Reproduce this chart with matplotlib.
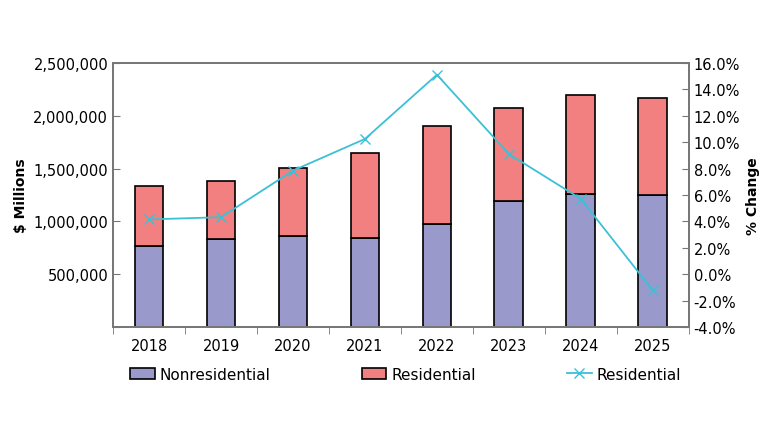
import numpy as np
import matplotlib.pyplot as plt
from matplotlib.ticker import FuncFormatter

years = ['2018', '2019', '2020', '2021', '2022', '2023', '2024', '2025']
nonres = [766000, 835000, 857000, 845000, 971000, 1195000, 1255000, 1248000]
res = [568000, 552000, 647000, 807000, 933000, 879000, 939000, 921000]
res_pct = [4.15, 4.32, 7.85, 10.25, 15.12, 9.11, 5.71, -1.23]

fig = plt.figure(figsize=(7.8, 4.39), dpi=100)
ax = fig.add_axes([0.145, 0.253, 0.738, 0.601])
x = np.arange(len(years))
ax.bar(x, nonres, width=0.4, color='#9999cc', edgecolor='black', lw=1.2, label='Nonresidential')
ax.bar(x, res, width=0.4, bottom=nonres, color='#f38080', edgecolor='black', lw=1.2, label='Residential')
ax.set_xlim(-0.5, len(years) - 0.5)
ax.set_ylim(0, 2500000)
ax.set_yticks(np.arange(0, 2500001, 500000))
ax.yaxis.set_major_formatter(FuncFormatter(lambda v, p: '' if v == 0 else f'{v:,.0f}'))
ax.set_xticks(x)
ax.set_xticklabels(years)
ax.set_xticks(np.arange(-0.5, len(years), 1), minor=True)
ax.tick_params(axis='x', which='major', length=0, labelsize=10.5, pad=8)
ax.tick_params(axis='x', which='minor', length=5, color='#777777', direction='out')
ax.tick_params(axis='y', labelsize=10.5, color='#777777', direction='in', length=5)
ax.set_ylabel('$ Millions', fontsize=10, fontweight='bold')
for s in ax.spines.values():
    s.set_color('#777777')
    s.set_linewidth(1.3)

ax2 = ax.twinx()
ax2.plot(x, res_pct, color='#3cc0d6', lw=1.3, marker='x', ms=7, label='Residential')
ax2.set_ylim(-4, 16)
ax2.set_yticks(np.arange(-4, 16.1, 2))
ax2.yaxis.set_major_formatter(FuncFormatter(lambda v, p: f'{v:.1f}%'))
ax2.tick_params(axis='y', labelsize=10.5, color='#777777', direction='in', length=5)
ax2.set_ylabel('% Change', fontsize=10, fontweight='bold')
for s in ax2.spines.values():
    s.set_color('#777777')
    s.set_linewidth(1.3)

h1, l1 = ax.get_legend_handles_labels()
h2, l2 = ax2.get_legend_handles_labels()
fig.legend(h1 + h2, l1 + l2, loc='center', bbox_to_anchor=(0.52, 0.145), ncol=3,
           frameon=False, fontsize=11, columnspacing=6, handlelength=1.6, handletextpad=0.3)
fig.savefig('out.png', dpi=100)
